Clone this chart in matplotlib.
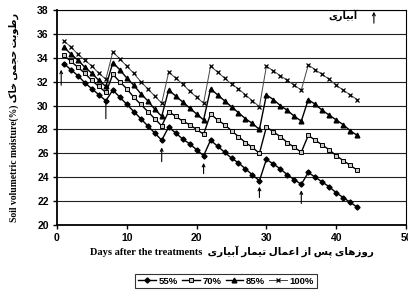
import matplotlib
matplotlib.use('Agg')
import matplotlib.pyplot as plt
import numpy as np

days = list(range(1, 44))

# soil moisture (%) per treatment
m55 = [33.5, 33.0, 32.5, 31.9, 31.4, 30.9, 30.4,
       31.3, 30.7, 30.1, 29.5, 28.9, 28.3, 27.7, 27.1,
       28.2, 27.7, 27.2, 26.8, 26.3, 25.8,
       27.1, 26.6, 26.1, 25.6, 25.2, 24.7, 24.2, 23.7,
       25.5, 25.1, 24.7, 24.2, 23.8, 23.4,
       24.4, 24.0, 23.6, 23.2, 22.7, 22.3, 21.9, 21.5]
m70 = [34.2, 33.7, 33.2, 32.7, 32.1, 31.6, 31.1,
       32.6, 32.0, 31.4, 30.7, 30.1, 29.5, 28.9, 28.3,
       29.5, 29.1, 28.7, 28.4, 28.0, 27.6,
       29.3, 28.8, 28.4, 27.9, 27.4, 26.9, 26.5, 26.0,
       28.2, 27.8, 27.4, 26.9, 26.5, 26.1,
       27.5, 27.1, 26.7, 26.3, 25.8, 25.4, 25.0, 24.6]
m85 = [34.9, 34.3, 33.8, 33.2, 32.7, 32.1, 31.6,
       33.6, 33.0, 32.3, 31.7, 31.0, 30.4, 29.7, 29.1,
       31.3, 30.8, 30.3, 29.8, 29.3, 28.8,
       31.4, 30.9, 30.4, 29.9, 29.4, 28.9, 28.5, 28.0,
       30.9, 30.5, 30.0, 29.6, 29.1, 28.7,
       30.5, 30.1, 29.6, 29.2, 28.8, 28.4, 27.9, 27.5]
m100 = [35.4, 34.9, 34.3, 33.8, 33.3, 32.7, 32.2,
        34.5, 33.9, 33.3, 32.7, 32.0, 31.4, 30.8, 30.2,
        32.8, 32.3, 31.8, 31.2, 30.7, 30.2,
        33.3, 32.8, 32.3, 31.8, 31.4, 30.9, 30.4, 29.9,
        33.3, 32.9, 32.5, 32.1, 31.7, 31.3,
        33.4, 33.0, 32.6, 32.2, 31.7, 31.3, 30.9, 30.5]

# irrigation arrows: day, tail, head
irr_days = [0.6, 7, 15, 21, 29, 35]
irr_low = [31.7, 28.9, 25.3, 24.3, 22.3, 21.8]
irr_high = [33.0, 30.6, 26.5, 25.2, 23.2, 22.9]

# matplotlib has no arabic shaping, so pick presentation forms by hand
_FORMS = {
    'ا': '\ufe8d\ufe8e', 'آ': '\ufe81\ufe82',
    'ب': '\ufe8f\ufe90\ufe91\ufe92', 'پ': '\ufb56\ufb57\ufb58\ufb59',
    'ت': '\ufe95\ufe96\ufe97\ufe98', 'ج': '\ufe9d\ufe9e\ufe9f\ufea0',
    'ح': '\ufea1\ufea2\ufea3\ufea4', 'خ': '\ufea5\ufea6\ufea7\ufea8',
    'ر': '\ufead\ufeae', 'ز': '\ufeaf\ufeb0',
    'س': '\ufeb1\ufeb2\ufeb3\ufeb4', 'ط': '\ufec1\ufec2\ufec3\ufec4',
    'ع': '\ufec9\ufeca\ufecb\ufecc', 'ک': '\ufb8e\ufb8f\ufb90\ufb91',
    'ل': '\ufedd\ufede\ufedf\ufee0', 'م': '\ufee1\ufee2\ufee3\ufee4',
    'و': '\ufeed\ufeee', 'ه': '\ufee9\ufeea\ufeeb\ufeec',
    'ی': '\ufbfc\ufbfd\ufbfe\ufbff',
}

def shape_fa(text):
    words = []
    for word in text.split(' '):
        glyphs = []
        for i, ch in enumerate(word):
            forms = _FORMS.get(ch)
            if forms is None:
                glyphs.append(ch)
                continue
            prev = _FORMS.get(word[i - 1]) if i > 0 else None
            nxt = word[i + 1] if i + 1 < len(word) else None
            joins_prev = prev is not None and len(prev) == 4
            joins_next = len(forms) == 4 and nxt in _FORMS
            glyphs.append(forms[{(False, False): 0, (True, False): 1,
                                 (False, True): 2, (True, True): 3}[(joins_prev, joins_next)]])
        words.append(''.join(reversed(glyphs)))
    return ' '.join(reversed(words))


W, H = 408, 294
fig = plt.figure(figsize=(W / 100, H / 100), dpi=100)
ax = fig.add_axes([57 / W, 1 - 225 / H, (406 - 57) / W, 215 / H])

ax.plot(days, m55, color='black', lw=1.0, marker='D', ms=2.6, mfc='black', mec='black', label='55%')
ax.plot(days, m70, color='black', lw=1.0, marker='s', ms=3.2, mfc='#c8c8c8', mec='black', mew=0.7, label='70%')
ax.plot(days, m85, color='black', lw=1.0, marker='^', ms=3.4, mfc='black', mec='black', label='85%')
ax.plot(days, m100, color='#444444', lw=0.7, marker='x', ms=3.2, mec='black', mew=0.9, label='100%')

arrow = dict(arrowstyle='->', lw=0.8, color='black', shrinkA=0, shrinkB=0, mutation_scale=5)
for d, lo, hi in zip(irr_days, irr_low, irr_high):
    ax.annotate('', xy=(d, hi), xytext=(d, lo), arrowprops=arrow)
ax.annotate('', xy=(45.4, 37.85), xytext=(45.4, 36.9), arrowprops=arrow)
ax.text(41.0, 37.55, shape_fa('آبیاری'), ha='center', va='center',
        fontsize=7, fontweight='bold', family=['DejaVu Sans'])

ax.set_xlim(0, 50)
ax.set_ylim(20, 38)
ax.set_xticks(np.arange(0, 51, 10))
ax.set_yticks(np.arange(20, 39, 2))
ax.yaxis.grid(True, color='#222222', lw=0.8)
ax.set_axisbelow(True)
for side in ('left', 'bottom'):
    ax.spines[side].set_linewidth(1.3)
ax.spines['top'].set_linewidth(0.8)
ax.spines['right'].set_linewidth(0.8)
ax.tick_params(direction='out', length=3, width=1, pad=3)
for lab in ax.get_xticklabels() + ax.get_yticklabels():
    lab.set_family('Liberation Sans')
    lab.set_fontweight('bold')
    lab.set_fontsize(7.5)

fig.text(232 / W, 1 - 252 / H,
         'Days after the treatments  ' + shape_fa('روزهای پس از اعمال تیمار آبیاری'),
         ha='center', va='center', fontsize=7.5, fontweight='bold',
         family=['Liberation Serif', 'DejaVu Sans'])
fig.text(14 / W, 1 - 117 / H,
         'Soil volumetric moisture(%) ' + shape_fa('رطوبت حجمی خاک'),
         ha='center', va='center', rotation=90, fontsize=6.9, fontweight='bold',
         family=['Liberation Serif', 'DejaVu Sans'])

leg = fig.legend(loc='center', bbox_to_anchor=(226 / W, 1 - 281 / H), ncol=4,
                 frameon=True, fancybox=False, edgecolor='black', handlelength=1.9,
                 handletextpad=0.25, columnspacing=0.45, borderpad=0.3,
                 prop={'family': 'Liberation Sans', 'weight': 'bold', 'size': 6.8})
leg.get_frame().set_linewidth(0.8)

fig.savefig('out.png', dpi=100)
